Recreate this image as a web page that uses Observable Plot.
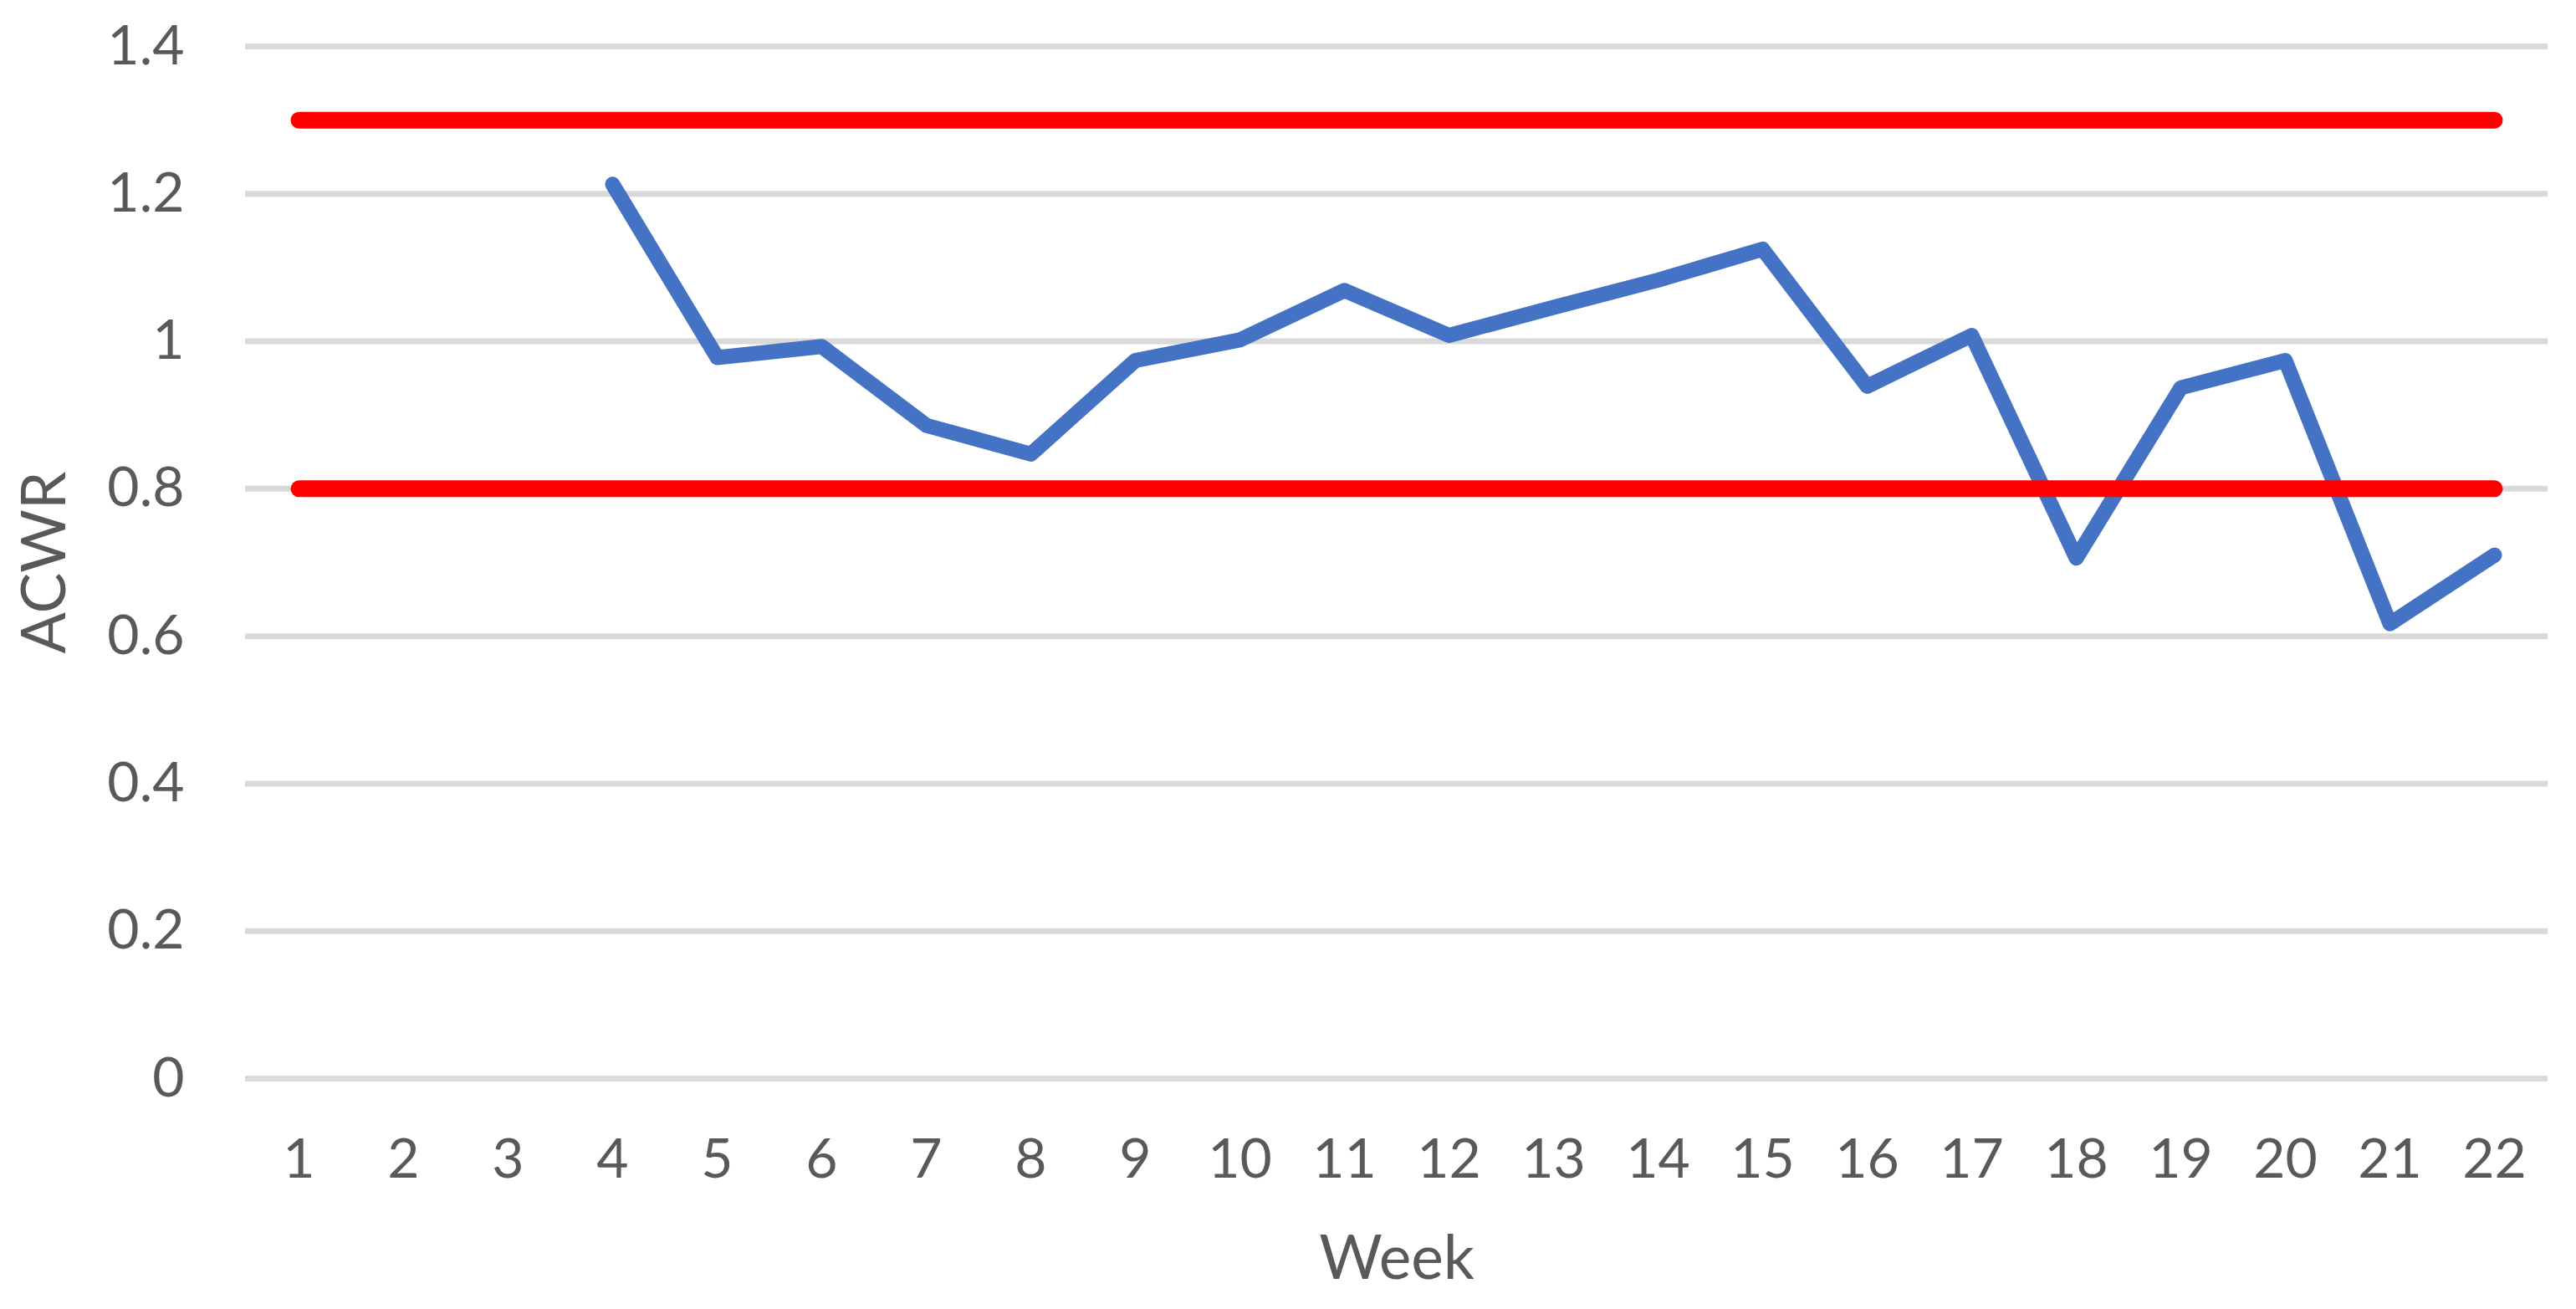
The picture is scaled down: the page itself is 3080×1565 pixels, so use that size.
<!DOCTYPE html>
<html>
<head>
<meta charset="utf-8">
<script src="https://cdn.jsdelivr.net/npm/d3@7"></script>
<script src="https://cdn.jsdelivr.net/npm/@observablehq/plot@0.6"></script>
<style>
  html, body { margin: 0; padding: 0; background: #ffffff; }
  #chart { width: 3080px; height: 1565px; }
</style>
</head>
<body>
<div id="chart"></div>
<script>
// ---- data ----
const weeks = [1, 2, 3, 4, 5, 6, 7, 8, 9, 10, 11, 12, 13, 14, 15, 16, 17, 18, 19, 20, 21, 22];
const acwr = [null, null, null, 1.213, 0.978, 0.993, 0.886, 0.847, 0.974, 1.002, 1.069,
              1.008, 1.046, 1.083, 1.125, 0.939, 1.008, 0.706, 0.937, 0.974, 0.617, 0.710];
const upperLimit = [1.3, 1.3, 1.3, 1.3, 1.3, 1.3, 1.3, 1.3, 1.3, 1.3, 1.3,
                    1.3, 1.3, 1.3, 1.3, 1.3, 1.3, 1.3, 1.3, 1.3, 1.3, 1.3];
const lowerLimit = [0.8, 0.8, 0.8, 0.8, 0.8, 0.8, 0.8, 0.8, 0.8, 0.8, 0.8,
                    0.8, 0.8, 0.8, 0.8, 0.8, 0.8, 0.8, 0.8, 0.8, 0.8, 0.8];
const yTicks = [0, 0.2, 0.4, 0.6, 0.8, 1.0, 1.2, 1.4];
const yTickLabels = ["0", "0.2", "0.4", "0.6", "0.8", "1", "1.2", "1.4"];
const xLabel = "Week";
const yLabel = "ACWR";

const rows = weeks.map((w, i) => ({ week: w, acwr: acwr[i], upper: upperLimit[i], lower: lowerLimit[i] }));

const textColor = "#595959";

const chart = Plot.plot({
  width: 3080,
  height: 1565,
  marginLeft: 293,
  marginRight: 34,
  marginTop: 55,
  marginBottom: 276,
  style: { fontFamily: "Lato, 'Open Sans', sans-serif", color: textColor, background: "#ffffff", overflow: "visible" },
  x: { type: "point", domain: weeks, padding: 0.5, axis: null },
  y: { domain: [0, 1.4], axis: null },
  marks: [
    Plot.ruleY(yTicks, { stroke: "#d9d9d9", strokeWidth: 7 }),
    Plot.line(rows, {
      x: "week", y: "acwr", stroke: "#4472c4", strokeWidth: 18,
      strokeLinecap: "round", strokeLinejoin: "round"
    }),
    Plot.line(rows, {
      x: "week", y: "upper", stroke: "#ff0000", strokeWidth: 20,
      strokeLinecap: "round", strokeLinejoin: "round"
    }),
    Plot.line(rows, {
      x: "week", y: "lower", stroke: "#ff0000", strokeWidth: 20,
      strokeLinecap: "round", strokeLinejoin: "round"
    }),
    Plot.axisY({
      ticks: yTicks, tickFormat: (d) => yTickLabels[yTicks.indexOf(d)],
      tickSize: 0, tickPadding: 73, fontSize: 66, label: null, fill: textColor
    }),
    Plot.axisX({
      ticks: weeks, tickFormat: (d) => String(d),
      tickSize: 0, tickPadding: 72, fontSize: 66, label: null, fill: textColor
    }),
    Plot.text([yLabel], {
      frameAnchor: "left", dx: -239, rotate: -90, fontSize: 73,
      textAnchor: "middle", lineAnchor: "middle", fill: textColor
    }),
    Plot.text([xLabel], {
      frameAnchor: "bottom", dy: 216, fontSize: 73,
      textAnchor: "middle", lineAnchor: "middle", fill: textColor
    })
  ]
});

document.getElementById("chart").appendChild(chart);
</script>
</body>
</html>
